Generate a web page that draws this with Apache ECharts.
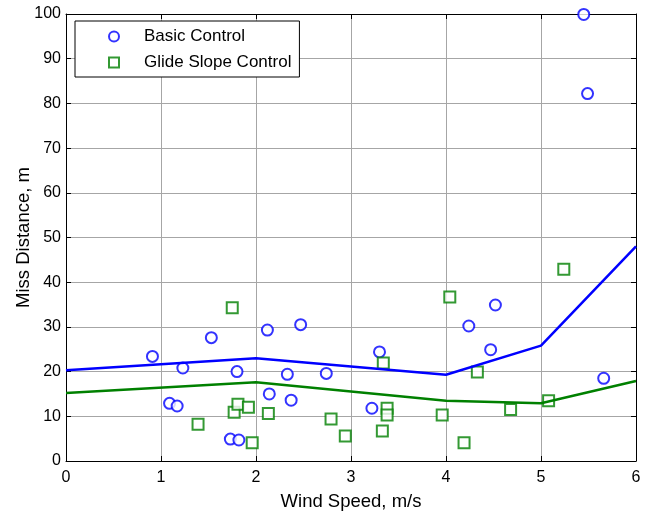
<!DOCTYPE html>
<html>
<head>
<meta charset="utf-8">
<script src="https://cdn.jsdelivr.net/npm/echarts@6/dist/echarts.min.js"></script>
<style>html,body{margin:0;padding:0;background:#fff}#c{width:651px;height:512px}</style>
</head>
<body>
<div id="c"></div>
<script>
var basicX = [0.91, 1.09, 1.17, 1.23, 1.53, 1.73, 1.80, 1.82, 2.12, 2.14, 2.33, 2.37, 2.47, 2.74, 3.22, 3.30, 4.24, 4.47, 4.52, 5.45, 5.49, 5.66];
var basicY = [23.4, 12.9, 12.3, 20.8, 27.6, 4.9, 20.0, 4.7, 29.3, 15.0, 19.4, 13.6, 30.5, 19.6, 11.8, 24.4, 30.2, 24.9, 34.9, 99.9, 82.2, 18.5];
var glideX = [1.39, 1.75, 1.77, 1.81, 1.92, 1.96, 2.13, 2.79, 2.94, 3.33, 3.34, 3.38, 3.38, 3.96, 4.04, 4.19, 4.33, 4.68, 5.08, 5.24];
var glideY = [8.2, 34.3, 10.9, 12.7, 12.0, 4.1, 10.6, 9.4, 5.6, 6.7, 21.9, 11.8, 10.3, 10.3, 36.7, 4.1, 19.9, 11.5, 13.5, 42.9];
var fitX = [0, 2, 4, 5, 6];
var basicFit = [20.3, 23.0, 19.3, 25.8, 48.0];
var glideFit = [15.2, 17.6, 13.5, 12.9, 17.9];
var xTicks = [0, 1, 2, 3, 4, 5, 6];
var yTicks = [0, 10, 20, 30, 40, 50, 60, 70, 80, 90, 100];

function pairs(xs, ys) { return xs.map(function (x, i) { return [x, ys[i]]; }); }

var FONT = "'Liberation Sans', Arial, Helvetica, sans-serif";
var chart = echarts.init(document.getElementById('c'), null, { renderer: 'canvas' });
var gridLine = { show: true, lineStyle: { color: '#a6a6a6', width: 1, type: 'solid' } };
chart.setOption({
  animation: false,
  backgroundColor: '#ffffff',
  grid: { left: 66, right: 15, top: 14, bottom: 51, containLabel: false, outerBoundsMode: 'none' },
  legend: {
    data: ['Basic Control', 'Glide Slope Control'],
    orient: 'vertical',
    left: 75, top: 21,
    padding: [7, 8, 6, 33],
    itemGap: 9,
    itemWidth: 10, itemHeight: 10,
    borderColor: '#000', borderWidth: 1, backgroundColor: '#fff',
    selectedMode: false,
    textStyle: { fontFamily: FONT, fontSize: 17, color: '#000', padding: [0, 0, 0, 20] }
  },
  xAxis: [{
    type: 'value', min: xTicks[0], max: xTicks[xTicks.length - 1], interval: 1,
    name: 'Wind Speed, m/s', nameLocation: 'middle', nameGap: 31, nameMoveOverlap: false,
    nameTextStyle: { fontFamily: FONT, fontSize: 18.5, color: '#000' },
    axisLine: { show: true, onZero: false, lineStyle: { color: '#000', width: 1 } },
    axisTick: { show: true, inside: true, length: 5, lineStyle: { color: '#000' } },
    axisLabel: { fontFamily: FONT, fontSize: 16, color: '#000', margin: 9 },
    splitLine: gridLine
  }, {
    type: 'value', position: 'top', min: 0, max: 6, interval: 1,
    axisLine: { show: true, onZero: false, lineStyle: { color: '#000', width: 1 } },
    axisTick: { show: true, inside: true, length: 5, lineStyle: { color: '#000' } },
    axisLabel: { show: false }, splitLine: { show: false }
  }],
  yAxis: [{
    type: 'value', min: yTicks[0], max: yTicks[yTicks.length - 1], interval: 10,
    name: 'Miss Distance, m', nameLocation: 'middle', nameGap: 33, nameRotate: 90, nameMoveOverlap: false,
    nameTextStyle: { fontFamily: FONT, fontSize: 18.5, color: '#000' },
    axisLine: { show: true, onZero: false, lineStyle: { color: '#000', width: 1 } },
    axisTick: { show: true, inside: true, length: 5, lineStyle: { color: '#000' } },
    axisLabel: { fontFamily: FONT, fontSize: 16, color: '#000', margin: 5 },
    splitLine: gridLine
  }, {
    type: 'value', position: 'right', min: 0, max: 100, interval: 10,
    axisLine: { show: true, onZero: false, lineStyle: { color: '#000', width: 1 } },
    axisTick: { show: true, inside: true, length: 5, lineStyle: { color: '#000' } },
    axisLabel: { show: false }, splitLine: { show: false }
  }],
  series: [{
    name: 'Basic Control', type: 'scatter', symbol: 'emptyCircle', symbolSize: 11,
    itemStyle: { color: '#0000ff', borderColor: '#0000ff', borderWidth: 0.9 },
    data: pairs(basicX, basicY), z: 3
  }, {
    name: 'Glide Slope Control', type: 'scatter', symbol: 'emptyRect', symbolSize: 11,
    itemStyle: { color: '#008000', borderColor: '#008000', borderWidth: 0.9 },
    data: pairs(glideX, glideY), z: 3
  }, {
    name: 'basicFit', type: 'line', symbol: 'none', data: pairs(fitX, basicFit),
    lineStyle: { color: '#0000ff', width: 2.5 }, itemStyle: { color: '#0000ff' }, z: 4
  }, {
    name: 'glideFit', type: 'line', symbol: 'none', data: pairs(fitX, glideFit),
    lineStyle: { color: '#008000', width: 2.5 }, itemStyle: { color: '#008000' }, z: 4
  }]
});
</script>
</body>
</html>
